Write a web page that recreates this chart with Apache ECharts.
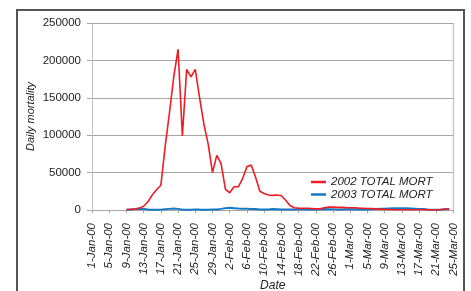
<!DOCTYPE html>
<html>
<head>
<meta charset="utf-8">
<script src="https://cdn.jsdelivr.net/npm/echarts@6/dist/echarts.min.js"></script>
<style>
html,body{margin:0;padding:0;background:#fff;}
#c{width:471px;height:291px;}
</style>
</head>
<body>
<div id="c"></div>
<script>
var dates = [
 '1-Jan-00','2-Jan-00','3-Jan-00','4-Jan-00','5-Jan-00','6-Jan-00','7-Jan-00','8-Jan-00','9-Jan-00','10-Jan-00',
 '11-Jan-00','12-Jan-00','13-Jan-00','14-Jan-00','15-Jan-00','16-Jan-00','17-Jan-00','18-Jan-00','19-Jan-00','20-Jan-00',
 '21-Jan-00','22-Jan-00','23-Jan-00','24-Jan-00','25-Jan-00','26-Jan-00','27-Jan-00','28-Jan-00','29-Jan-00','30-Jan-00',
 '31-Jan-00','1-Feb-00','2-Feb-00','3-Feb-00','4-Feb-00','5-Feb-00','6-Feb-00','7-Feb-00','8-Feb-00','9-Feb-00',
 '10-Feb-00','11-Feb-00','12-Feb-00','13-Feb-00','14-Feb-00','15-Feb-00','16-Feb-00','17-Feb-00','18-Feb-00','19-Feb-00',
 '20-Feb-00','21-Feb-00','22-Feb-00','23-Feb-00','24-Feb-00','25-Feb-00','26-Feb-00','27-Feb-00','28-Feb-00','29-Feb-00',
 '1-Mar-00','2-Mar-00','3-Mar-00','4-Mar-00','5-Mar-00','6-Mar-00','7-Mar-00','8-Mar-00','9-Mar-00','10-Mar-00',
 '11-Mar-00','12-Mar-00','13-Mar-00','14-Mar-00','15-Mar-00','16-Mar-00','17-Mar-00','18-Mar-00','19-Mar-00','20-Mar-00',
 '21-Mar-00','22-Mar-00','23-Mar-00','24-Mar-00','25-Mar-00'
];

var mort2002 = [
 null,null,null,null,null,null,null,null,
 500,800,1200,2500,5000,11000,20000,27000,33000,85000,130000,178000,
 215000,99000,188000,178000,188000,150000,115000,88000,50000,73000,
 62000,28000,23000,31000,31000,42000,58000,60000,44000,25000,
 22000,20000,19500,20000,19000,13000,6000,3000,2500,2300,
 2300,2000,1500,1500,3000,4000,3800,3500,3500,3200,
 3000,3000,2500,2300,2000,1800,1500,1200,900,700,
 500,400,300,300,300,300,300,500,300,200,
 200,500,1000,1500,null
];

var mort2003 = [
 null,null,null,null,null,null,null,null,
 300,800,1200,1800,1500,800,300,200,500,1000,1500,2000,
 1500,500,300,500,800,600,500,500,700,800,
 1500,2500,3000,2500,2000,1800,1700,1500,1200,800,
 600,800,1200,1000,800,600,600,800,1000,1000,
 800,600,700,1000,1200,1000,900,800,800,900,
 1000,900,800,700,800,1000,1300,1600,1800,2000,
 2200,2300,2300,2200,2000,1800,1500,1200,800,500,
 300,500,1000,1200,null
];

var yTicks = [0, 50000, 100000, 150000, 200000, 250000];

var FONT = '"Liberation Sans", Arial, sans-serif';
var chart = echarts.init(document.getElementById('c'), null, {renderer:'canvas'});
chart.setOption({
  animation: false,
  backgroundColor: '#fff',
  textStyle: {fontFamily: FONT},
  graphic: [{
    type: 'rect',
    shape: {x: 17, y: 10, width: 447, height: 300},
    style: {fill: 'none', stroke: '#555', lineWidth: 2},
    silent: true, z: 0
  }, {
    type: 'line',
    shape: {x1: 453.5, y1: 23, x2: 453.5, y2: 210},
    style: {stroke: '#c8c8c8', lineWidth: 1.5},
    silent: true
  }],
  grid: {left: 92, right: 17.5, top: 23, bottom: 81, containLabel: false, outerBoundsMode: 'none'},
  legend: {
    orient: 'vertical',
    left: 311, top: 176,
    padding: 0,
    itemWidth: 15, itemHeight: 2.5, itemGap: 0.5,
    icon: 'rect',
    textStyle: {fontFamily: FONT, fontSize: 11.5, fontStyle: 'italic', color: '#222', lineHeight: 11.6, padding: [0,0,0,0]},
    data: ['2002 TOTAL MORT', '2003 TOTAL MORT']
  },
  xAxis: {
    type: 'category',
    data: dates,
    boundaryGap: false,
    name: 'Date',
    nameLocation: 'middle',
    nameGap: 70,
    nameMoveOverlap: false,
    nameTextStyle: {fontFamily: FONT, fontSize: 12, fontStyle: 'italic', color: '#222'},
    axisLine: {lineStyle: {color: '#a6a6a6', width: 1}},
    axisTick: {show: true, interval: 3, length: 3, lineStyle: {color: '#a6a6a6'}},
    axisLabel: {interval: 3, rotate: 90, fontSize: 11.5, fontStyle: 'italic', color: '#222', margin: 13, fontFamily: FONT},
    splitLine: {show: false}
  },
  yAxis: {
    type: 'value',
    min: yTicks[0], max: yTicks[yTicks.length-1], interval: yTicks[1]-yTicks[0],
    name: 'Daily mortality',
    nameLocation: 'middle',
    nameGap: 56,
    nameMoveOverlap: false,
    nameTextStyle: {fontFamily: FONT, fontSize: 11, fontStyle: 'italic', color: '#222'},
    axisLine: {show: true, lineStyle: {color: '#c0c0c0', width: 1}},
    axisTick: {show: true, length: 5, lineStyle: {color: '#a6a6a6'}},
    axisLabel: {fontSize: 11.5, color: '#222', margin: 11, fontFamily: FONT, formatter: function(v){ return String(v); }},
    splitLine: {show: true, lineStyle: {color: '#a6a6a6', width: 1}}
  },
  series: [{
    name: '2002 TOTAL MORT',
    type: 'line',
    data: mort2002,
    showSymbol: false,
    symbol: 'none',
    color: '#ee1c25',
    lineStyle: {color: '#ee1c25', width: 1.6},
    z: 3
  }, {
    name: '2003 TOTAL MORT',
    type: 'line',
    data: mort2003,
    showSymbol: false,
    symbol: 'none',
    color: '#1479c4',
    lineStyle: {color: '#1479c4', width: 2},
    z: 2
  }]
});
</script>
</body>
</html>
